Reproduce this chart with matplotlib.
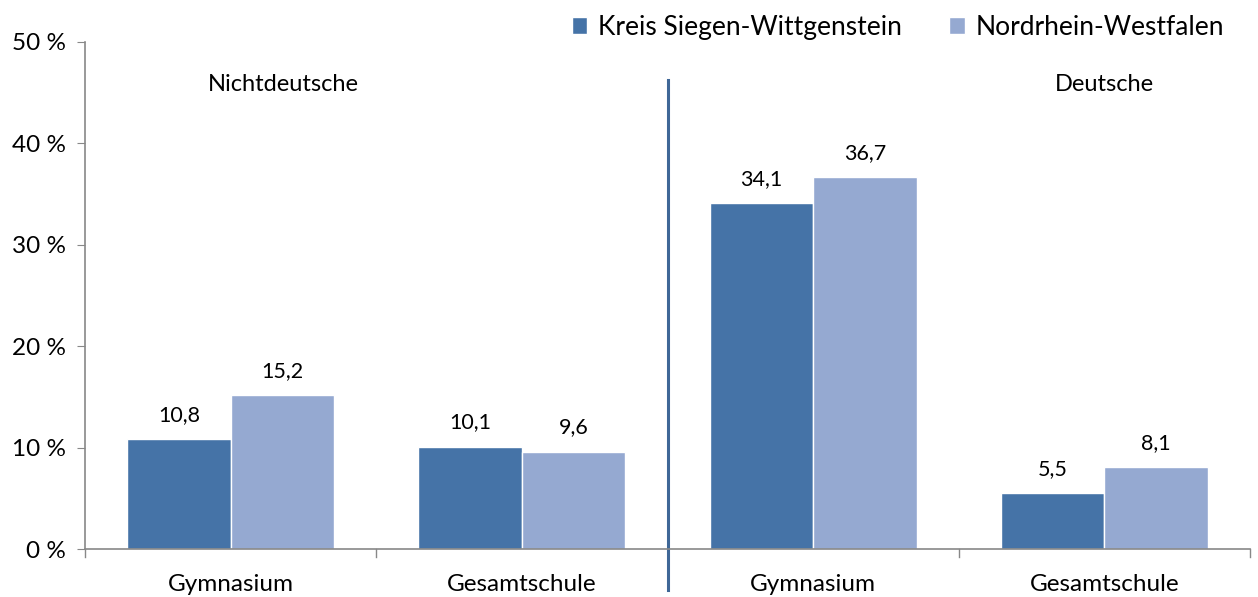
import matplotlib
matplotlib.use("Agg")
import matplotlib.pyplot as plt
import numpy as np

categories = ["Gymnasium", "Gesamtschule", "Gymnasium", "Gesamtschule"]
series_names = ["Kreis Siegen-Wittgenstein", "Nordrhein-Westfalen"]
kreis = [10.8, 10.1, 34.1, 5.5]
nrw = [15.2, 9.6, 36.7, 8.1]
group_labels = ["Nichtdeutsche", "Deutsche"]
yticks = [0, 10, 20, 30, 40, 50]

c_dark = "#4573A7"
c_light = "#95A9D1"

plt.rcParams['font.family'] = ['Lato', 'DejaVu Sans']

fig = plt.figure(figsize=(12.58, 5.97), dpi=100)
ax = fig.add_axes([85/1258, 48/597, 1165/1258, 507/597])

x = np.arange(len(categories))
w = 0.355
b1 = ax.bar(x - w/2, kreis, w, color=c_dark, edgecolor="white", linewidth=1.0)
b2 = ax.bar(x + w/2, nrw, w, color=c_light, edgecolor="white", linewidth=1.0)

for bars, vals in ((b1, kreis), (b2, nrw)):
    for r, v in zip(bars, vals):
        ax.text(r.get_x() + r.get_width()/2, v + 1.4, f"{v:.1f}".replace(".", ","),
                ha="center", va="bottom", fontsize=15.5)

ax.set_xlim(-0.5, 3.5)
ax.set_ylim(0, 50)
ax.set_yticks(yticks)
ax.set_yticklabels([f"{t} %" for t in yticks], fontsize=17.5)
ax.set_xticks(x)
ax.set_xticklabels(categories, fontsize=17.5)
ax.tick_params(axis="x", length=0, pad=18)
ax.tick_params(axis="y", length=6, color="#888888", pad=8)
for xb in [-0.5, 0.5, 1.5, 2.5, 3.5]:
    ax.plot([xb, xb], [0, -0.8], color="#888888", lw=1, clip_on=False)

for s in ["top", "right"]:
    ax.spines[s].set_visible(False)
for s in ["left", "bottom"]:
    ax.spines[s].set_color("#888888")
    ax.spines[s].set_linewidth(1.2)

ax.plot([1.5, 1.5], [-4.0, 46.3], color="#3F6797", lw=2.2, clip_on=False)

ax.text(0.18, 45.8, group_labels[0], ha="center", va="center", fontsize=17)
ax.text(3.0, 45.8, group_labels[1], ha="center", va="center", fontsize=17)

fig.legend([b1, b2], series_names, loc="upper right", bbox_to_anchor=(0.992, 1.015),
           ncol=2, frameon=False, fontsize=19, handlelength=0.6, handleheight=0.6,
           handletextpad=0.4, columnspacing=1.8)

fig.savefig("out.png", dpi=100, facecolor="white")
